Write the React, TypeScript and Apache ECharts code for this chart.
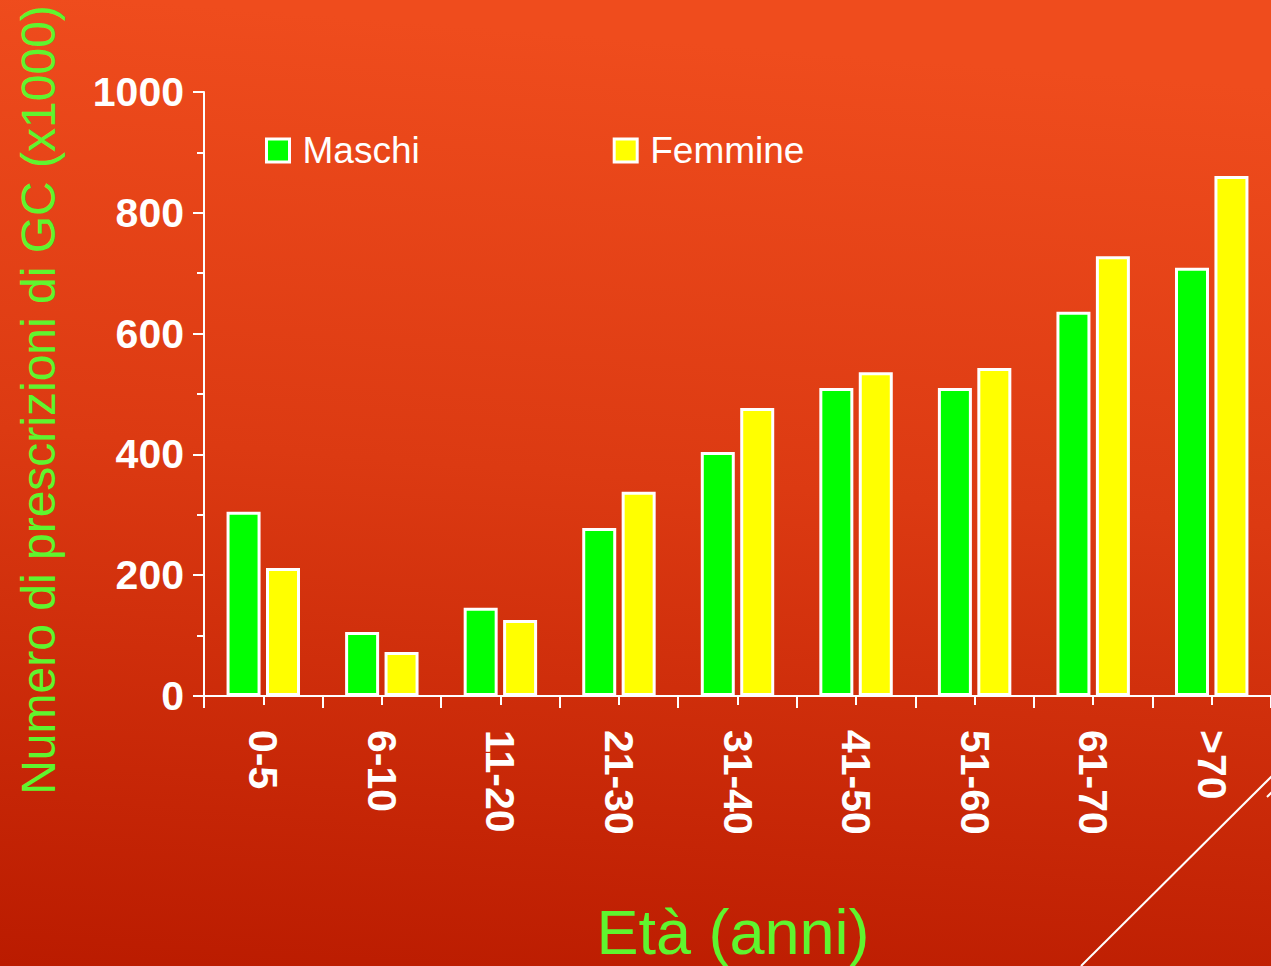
import React, { useEffect, useRef } from "react";
import * as echarts from "echarts";

const categories = ["0-5", "6-10", "11-20", "21-30", "31-40", "41-50", "51-60", "61-70", ">70"];
const maschi = [305, 106, 146, 278, 404, 510, 510, 636, 709];
const femmine = [212, 73, 126, 338, 477, 536, 543, 728, 861];
const yTicks = [0, 200, 400, 600, 800, 1000];

const FONT = "'Liberation Sans', Arial, sans-serif";
const GREEN_TEXT = "#5ff52e";

export default function App() {
  const ref = useRef<HTMLDivElement>(null);
  useEffect(() => {
    if (!ref.current) return;
    const chart = echarts.init(ref.current, null, { renderer: "svg" });
    chart.setOption({
      animation: false,
      backgroundColor: new echarts.graphic.LinearGradient(0.1, 0, 0, 1, [
        { offset: 0, color: "#ef4c1d" },
        { offset: 0.45, color: "#dc3a12" },
        { offset: 1, color: "#ba1b00" },
      ]),
      textStyle: { fontFamily: FONT },
      grid: { left: 204, top: 92, width: 1073, height: 604, containLabel: false },
      legend: {
        left: 260,
        top: 127,
        itemWidth: 23,
        itemHeight: 23,
        itemGap: 193,
        icon: "rect",
        itemStyle: { borderColor: "#ffffff", borderWidth: 3 },
        textStyle: { color: "#ffffff", fontSize: 37, fontFamily: FONT, padding: [0, 0, 0, 8] },
        data: ["Maschi", "Femmine"],
      },
      xAxis: [
        {
          type: "category",
          data: categories,
          position: "bottom",
          axisLine: { show: true, lineStyle: { color: "#ffffff", width: 2 } },
          axisTick: { show: true, interval: 0, length: 12, lineStyle: { color: "#ffffff", width: 2 } },
          axisLabel: {
            interval: 0,
            rotate: -90,
            margin: 34,
            color: "#ffffff",
            fontSize: 41,
            fontWeight: "bold",
            fontFamily: FONT,
          },
          splitLine: { show: false },
        },
        {
          type: "category",
          data: categories,
          position: "bottom",
          axisLine: { show: false },
          axisTick: { show: true, alignWithLabel: true, interval: 0, length: 9, lineStyle: { color: "#ffffff", width: 2 } },
          axisLabel: { show: false },
          splitLine: { show: false },
        },
      ],
      yAxis: {
        type: "value",
        min: 0,
        max: 1000,
        interval: 200,
        axisLine: { show: true, lineStyle: { color: "#ffffff", width: 2 } },
        axisTick: { show: true, length: 11, lineStyle: { color: "#ffffff", width: 2 } },
        minorTick: { show: true, splitNumber: 2, length: 7, lineStyle: { color: "#ffffff", width: 2 } },
        splitLine: { show: false },
        axisLabel: {
          margin: 20,
          color: "#ffffff",
          fontSize: 41,
          fontWeight: "bold",
          fontFamily: FONT,
          formatter: (v: number) => (yTicks.includes(v) ? String(v) : ""),
        },
      },
      series: [
        {
          name: "Maschi",
          type: "bar",
          data: maschi,
          barWidth: 34,
          barGap: "16%",
          itemStyle: { color: "#00ff00", borderColor: "#ffffff", borderWidth: 3 },
        },
        {
          name: "Femmine",
          type: "bar",
          data: femmine,
          barWidth: 34,
          barGap: "16%",
          itemStyle: { color: "#ffff00", borderColor: "#ffffff", borderWidth: 3 },
        },
      ],
      graphic: [
        {
          type: "text",
          x: 38,
          y: 400,
          rotation: Math.PI / 2,
          style: {
            text: "Numero di prescrizioni di GC (x1000)",
            fill: GREEN_TEXT,
            font: `48px ${FONT}`,
            align: "center",
            verticalAlign: "middle",
          },
        },
        {
          type: "text",
          x: 733,
          y: 932,
          style: {
            text: "Età (anni)",
            fill: GREEN_TEXT,
            font: `63px ${FONT}`,
            align: "center",
            verticalAlign: "middle",
          },
        },
        {
          type: "line",
          shape: { x1: 1081, y1: 966, x2: 1273, y2: 775 },
          style: { stroke: "#ffffff", lineWidth: 2 },
        },
        {
          type: "line",
          shape: { x1: 1267, y1: 797, x2: 1290, y2: 774 },
          style: { stroke: "#ffffff", lineWidth: 2 },
        },
      ],
    });
    return () => chart.dispose();
  }, []);
  return (
    <div
      ref={ref}
      style={{ position: "absolute", left: 0, top: 0, width: 1271, height: 966 }}
    />
  );
}
